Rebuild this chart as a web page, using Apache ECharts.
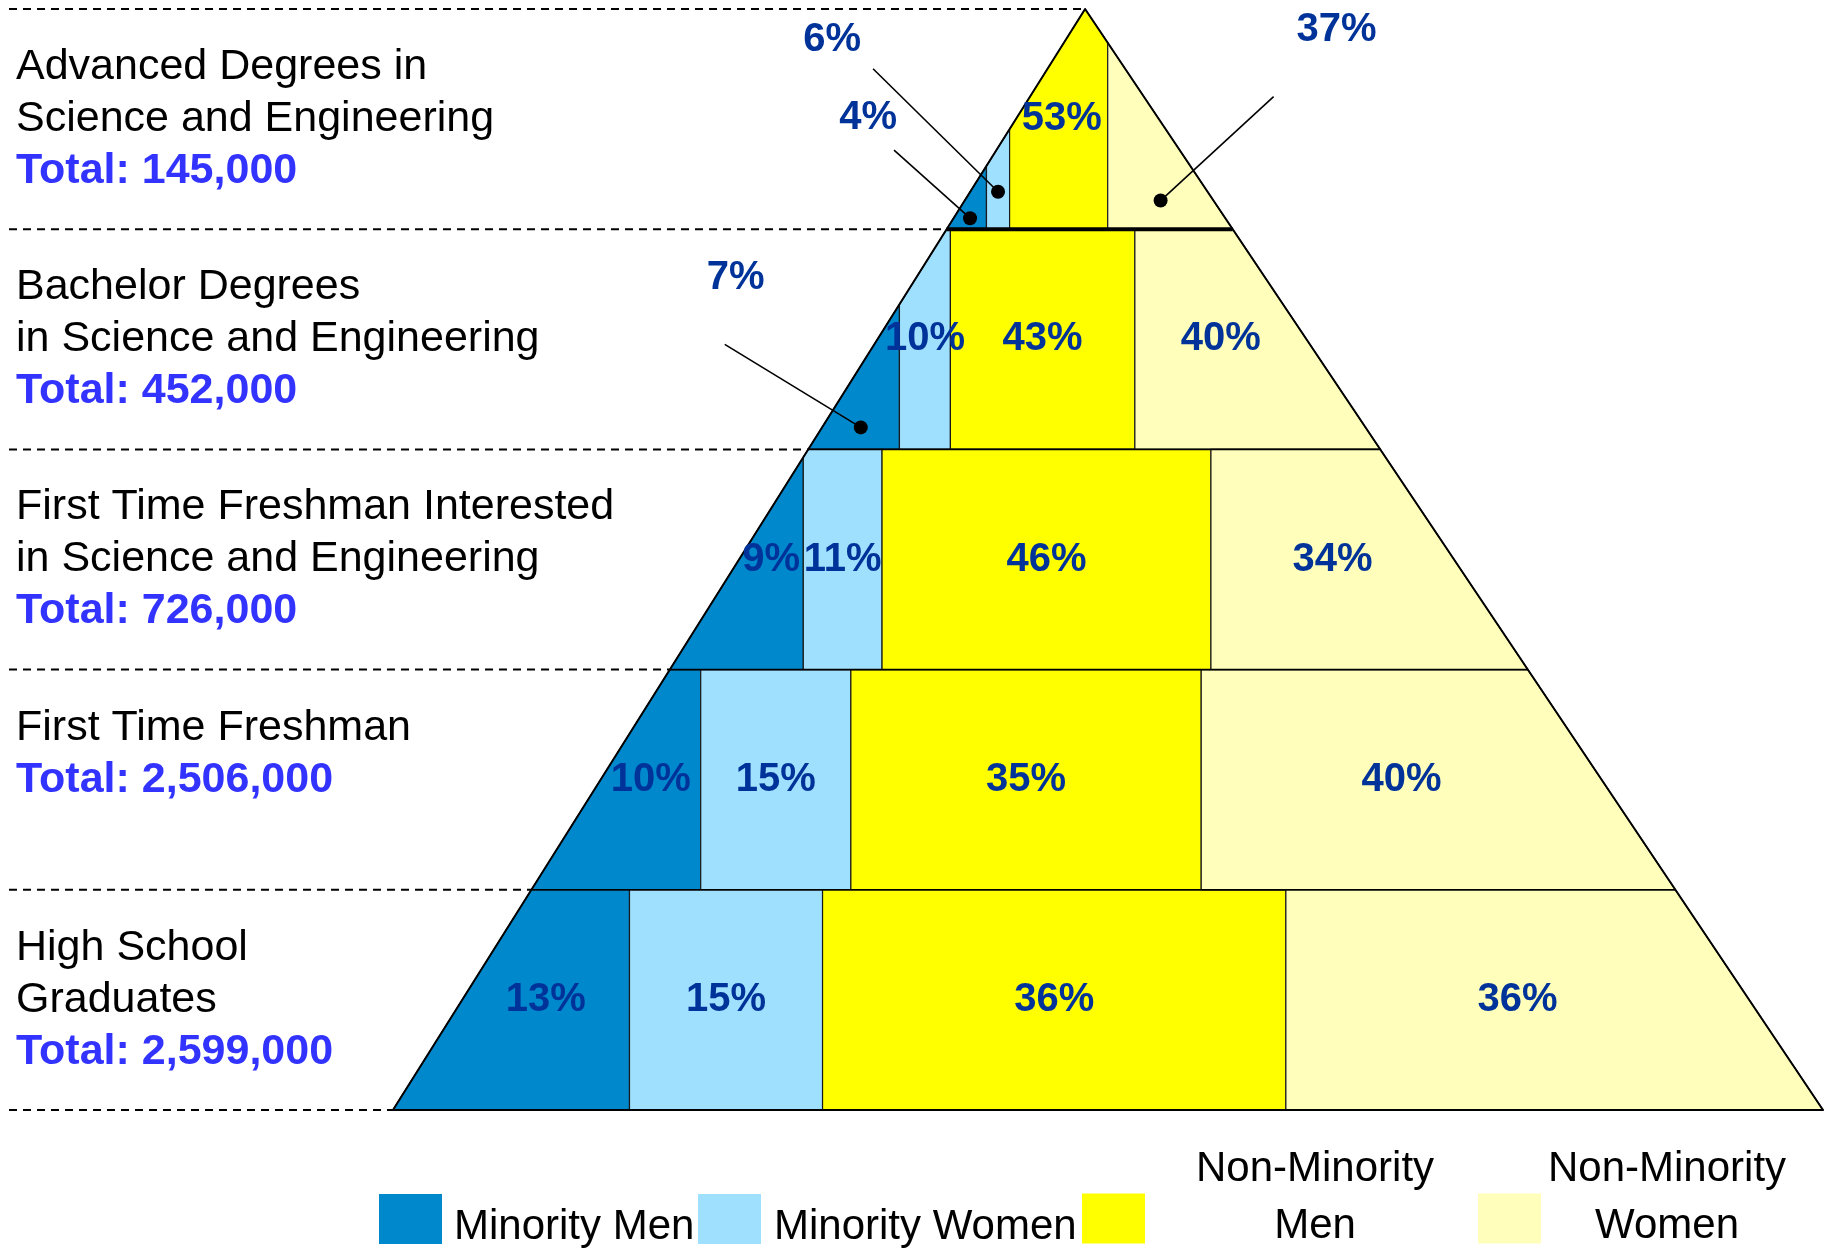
<!DOCTYPE html>
<html>
<head>
<meta charset="utf-8">
<title>Science and Engineering pipeline</title>
<script src="https://cdn.jsdelivr.net/npm/echarts@6/dist/echarts.min.js"></script>
<style>
  html, body { margin: 0; padding: 0; background: #fff; }
  #chart { width: 1825px; height: 1253px; }
</style>
</head>
<body>
<div id="chart"></div>
<script>
// tiers from top of the pyramid to the bottom
const tiers = [
  'Advanced Degrees in\nScience and Engineering',
  'Bachelor Degrees\nin Science and Engineering',
  'First Time Freshman Interested\nin Science and Engineering',
  'First Time Freshman',
  'High School\nGraduates'
];
const totals = [145000, 452000, 726000, 2506000, 2599000];

const groups = ['Minority Men', 'Minority Women', 'Non-Minority Men', 'Non-Minority Women'];
const minorityMen = [4, 7, 9, 10, 13];
const minorityWomen = [6, 10, 11, 15, 15];
const nonMinorityMen = [53, 43, 46, 35, 36];
const nonMinorityWomen = [37, 40, 34, 40, 36];
const values = [minorityMen, minorityWomen, nonMinorityMen, nonMinorityWomen];

const colors = ['#0088cc', '#a0e0ff', '#ffff00', '#ffffbb'];
const FONT = '"Liberation Sans", Arial, Helvetica, sans-serif';
const LABEL_FONT = 'bold 40px ' + FONT;

// layout: apex position along the base (base runs 0..100 on the x axis)
const APEX_X = 48.4;
const LEVELS = tiers.length;
// labels drawn outside with a leader line:
// [tier, group, dot depth inside tier, label dx, label dy, line end dx, line end dy]
const callouts = [
  [0, 0, 0.95, -102, -100, -76, -68],
  [0, 1, 0.83, -166, -152, -125, -123],
  [0, 3, 0.87, 176, -171, 113, -104],
  [1, 0, 0.90, -125, -149, -136, -83]
];
const legendPos = [[379, 1186], [698, 1186], [1082, 1125], [1478, 1125]];
const legendPad = [[16, 0, 0, 7], [16, 0, 0, 8], [16, 0, 57, 46], [16, 0, 57, 2]];

// pyramid edges in data units (d = depth, 0 at apex, LEVELS at base)
const leftAt = d => APEX_X * (1 - d / LEVELS);
const rightAt = d => APEX_X + (100 - APEX_X) * d / LEVELS;

function tierPoly(t) {
  return [[leftAt(t), t], [rightAt(t), t], [rightAt(t + 1), t + 1], [leftAt(t + 1), t + 1]];
}

// keep the part of the polygon left (or right) of x
function clipX(poly, x, keepLeft) {
  const out = [];
  for (let i = 0; i < poly.length; i++) {
    const a = poly[i], b = poly[(i + 1) % poly.length];
    const ina = keepLeft ? a[0] <= x : a[0] >= x;
    const inb = keepLeft ? b[0] <= x : b[0] >= x;
    if (ina) out.push(a);
    if (ina !== inb) {
      const k = (x - a[0]) / (b[0] - a[0]);
      out.push([x, a[1] + k * (b[1] - a[1])]);
    }
  }
  return out;
}

function area(poly) {
  let s = 0;
  for (let i = 0; i < poly.length; i++) {
    const a = poly[i], b = poly[(i + 1) % poly.length];
    s += a[0] * b[1] - b[0] * a[1];
  }
  return Math.abs(s) / 2;
}

// vertical cuts so each group's area in the tier matches its share
function splits(t) {
  const poly = tierPoly(t);
  const total = area(poly);
  const sum = values.reduce((acc, v) => acc + v[t], 0);
  const res = [leftAt(t + 1)];
  let cum = 0;
  for (let g = 0; g < values.length - 1; g++) {
    cum += values[g][t];
    const target = total * cum / sum;
    let lo = leftAt(t + 1), hi = rightAt(t + 1);
    for (let k = 0; k < 60; k++) {
      const mid = (lo + hi) / 2;
      if (area(clipX(poly, mid, true)) < target) lo = mid; else hi = mid;
    }
    res.push((lo + hi) / 2);
  }
  res.push(rightAt(t + 1));
  return res;
}
const tierSplits = tiers.map((_, t) => splits(t));

function pixelHelper(api) {
  const bandH = api.size([0, 1])[1];
  const top0 = api.coord([0, 0])[1] - bandH / 2;
  return p => [api.coord([p[0], 0])[0], top0 + p[1] * bandH];
}

function labelStyle(text) {
  return {
    text: text, fill: '#003399', font: LABEL_FONT,
    align: 'center', verticalAlign: 'middle',
    textAlign: 'center', textVerticalAlign: 'middle'
  };
}

function renderGroup(g) {
  return function (params, api) {
    const t = params.dataIndex;
    const toPx = pixelHelper(api);
    const s = tierSplits[t];
    const x0 = s[g], x1 = s[g + 1];
    const shape = clipX(clipX(tierPoly(t), x0, false), x1, true);
    const children = [{
      type: 'polygon',
      z2: 0,
      shape: { points: shape.map(toPx) },
      style: { fill: colors[g], stroke: '#1a1a1a', lineWidth: 1.2 }
    }];
    const text = values[g][t] + '%';
    const co = callouts.find(c => c[0] === t && c[1] === g);
    if (co) {
      const d = t + co[2];
      const cx = (Math.max(x0, leftAt(d)) + Math.min(x1, rightAt(d))) / 2;
      const dot = toPx([cx, d]);
      children.push({
        type: 'line', z2: 8,
        shape: { x1: dot[0], y1: dot[1], x2: dot[0] + co[5], y2: dot[1] + co[6] },
        style: { stroke: '#000', lineWidth: 1.6 }
      });
      children.push({
        type: 'circle', z2: 9,
        shape: { cx: dot[0], cy: dot[1], r: 7 },
        style: { fill: '#000' }
      });
      children.push({
        type: 'text', z2: 10,
        x: dot[0] + co[3], y: dot[1] + co[4],
        style: labelStyle(text)
      });
    } else {
      const d = t + 0.5;
      const cx = (Math.max(x0, leftAt(d)) + Math.min(x1, rightAt(d))) / 2;
      const p = toPx([cx, d]);
      children.push({ type: 'text', z2: 10, x: p[0], y: p[1], style: labelStyle(text) });
    }
    return { type: 'group', children };
  };
}

function renderFrame(params, api) {
  const toPx = pixelHelper(api);
  const children = [];
  // dashed guides from the left margin to the pyramid edge
  for (let d = 0; d <= LEVELS; d++) {
    const e = toPx([leftAt(d), d]);
    children.push({
      type: 'line', z2: 4,
      shape: { x1: 9, y1: e[1], x2: e[0], y2: e[1] },
      style: { stroke: '#000', lineWidth: 2, lineDash: [8, 6] }
    });
  }
  // tier separators
  for (let d = 1; d < LEVELS; d++) {
    const a = toPx([leftAt(d), d]), b = toPx([rightAt(d), d]);
    children.push({
      type: 'line', z2: 5,
      shape: { x1: a[0], y1: a[1], x2: b[0], y2: b[1] },
      style: { stroke: '#000', lineWidth: d === 1 ? 4 : 1.6 }
    });
  }
  // outline
  children.push({
    type: 'polygon', z2: 6,
    shape: { points: [[leftAt(LEVELS), LEVELS], [APEX_X, 0], [rightAt(LEVELS), LEVELS]].map(toPx) },
    style: { fill: 'none', stroke: '#000', lineWidth: 2, lineJoin: 'round' }
  });
  return { type: 'group', children };
}

const chart = echarts.init(document.getElementById('chart'));

const series = groups.map((name, g) => ({
  name: name,
  type: 'custom',
  z: 2,
  itemStyle: { color: colors[g] },
  encode: { x: 0, y: 1 },
  data: values[g].map((v, t) => [v, t]),
  renderItem: renderGroup(g)
}));
series.push({
  name: 'frame',
  type: 'custom',
  z: 2,
  silent: true,
  encode: { x: 0, y: 1 },
  data: [[0, 0]],
  renderItem: renderFrame
});

chart.setOption({
  animation: false,
  backgroundColor: '#fff',
  grid: { left: 0, right: 0, top: 9, bottom: 143, outerBoundsMode: 'none' },
  xAxis: {
    type: 'value',
    min: -27.48,
    max: 100.14,
    show: false
  },
  yAxis: {
    type: 'category',
    data: tiers,
    inverse: true,
    axisLine: { show: false },
    axisTick: { show: false },
    splitLine: { show: false },
    axisLabel: {
      inside: true,
      margin: 16,
      interval: 0,
      formatter: (name, i) => {
        const lines = name.split('\n').map(l => '{name|' + l + '}');
        lines.push('{total|Total: ' + totals[i].toLocaleString('en-US') + '}');
        while (lines.length < 3) lines.push('{name| }');
        return lines.join('\n');
      },
      rich: {
        name: { fontFamily: FONT, fontSize: 43, lineHeight: 52, color: '#000' },
        total: { fontFamily: FONT, fontSize: 43, lineHeight: 52, fontWeight: 'bold', color: '#3333ff' }
      }
    }
  },
  legend: groups.map((name, g) => ({
    data: [name],
    selectedMode: false,
    icon: 'rect',
    itemWidth: 63,
    itemHeight: 50,
    padding: 0,
    left: legendPos[g][0],
    top: legendPos[g][1],
    formatter: n => n.startsWith('Non-') ? n.split(' ').map(w => '{c|' + w + '}').join('\n') : n,
    textStyle: {
      fontFamily: FONT,
      fontSize: 42,
      lineHeight: 50,
      color: '#000',
      padding: legendPad[g],
      rich: {
        c: { fontFamily: FONT, fontSize: 42, lineHeight: 57, color: '#000', align: 'center' }
      }
    }
  })),
  series: series
});
</script>
</body>
</html>
